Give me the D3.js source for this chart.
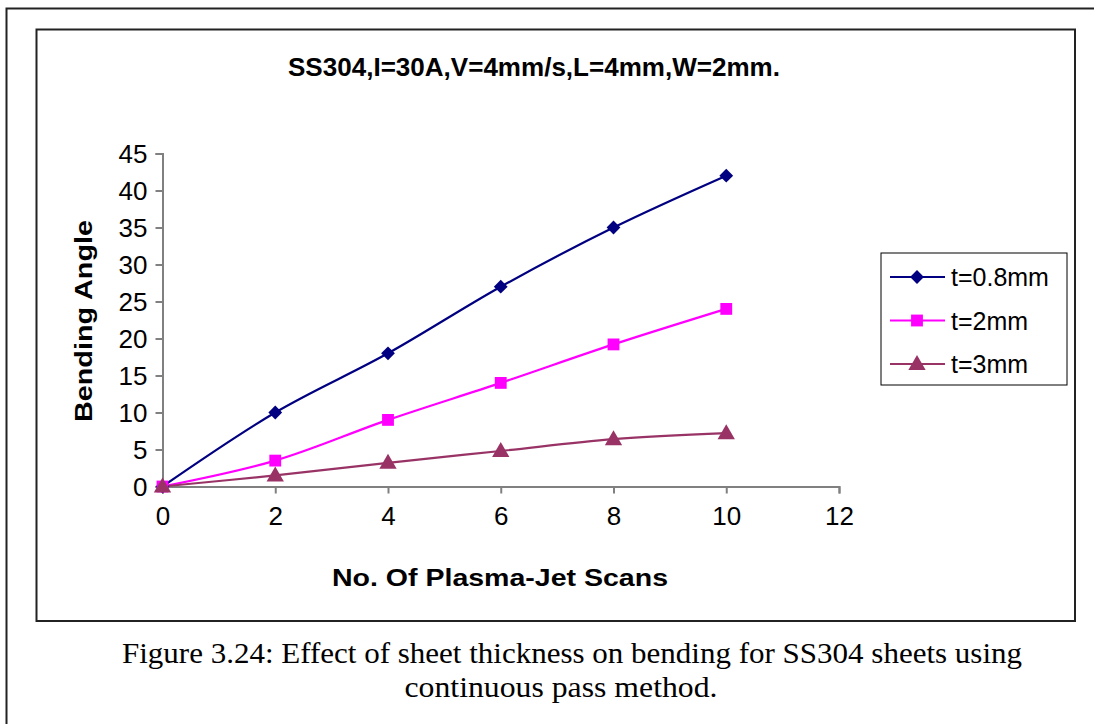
<!DOCTYPE html>
<html><head><meta charset="utf-8">
<script src="https://cdn.jsdelivr.net/npm/d3@7"></script>
<style>html,body{margin:0;padding:0;background:#fff;}svg{display:block;}</style>
</head><body>
<svg id="chart" width="1094" height="724"></svg>
<script>
const scans = [0, 2, 4, 6, 8, 10];
const t08 = [0, 10, 18, 27, 35, 42];
const t2 = [0, 3.5, 9, 14, 19.2, 24];
const t3 = [0, 1.5, 3.2, 4.8, 6.4, 7.2];
const seriesNames = ["t=0.8mm", "t=2mm", "t=3mm"];
const seriesColors = ["#000080", "#FF00FF", "#993366"];
const xTicks = [0, 2, 4, 6, 8, 10, 12];
const yTicks = [0, 5, 10, 15, 20, 25, 30, 35, 40, 45];
const title = "SS304,I=30A,V=4mm/s,L=4mm,W=2mm.";
const xTitle = "No. Of Plasma-Jet Scans";
const yTitle = "Bending Angle";
const caption = ["Figure 3.24: Effect of sheet thickness on bending for SS304 sheets using", "continuous pass method."];
const captionWidths = [900, 313];
const captionCenters = [572, 561];

const svg = d3.select("#chart");
const sans = "Arial, 'Liberation Sans', sans-serif";
// outer frame
svg.append("path").attr("d", "M6.5,724 L6.5,8.5 L1094,8.5").attr("fill", "none").attr("stroke", "#222").attr("stroke-width", 2);
// inner chart box
svg.append("rect").attr("x", 36.5).attr("y", 29.5).attr("width", 1038.5).attr("height", 591.5)
  .attr("fill", "#fff").attr("stroke", "#222").attr("stroke-width", 2);

const x = d3.scaleLinear().domain([0, 12]).range([162.5, 839]);
const y = d3.scaleLinear().domain([0, 45]).range([486.5, 153.5]);

const axisColor = "#808080";
const xa = svg.append("g").attr("transform", `translate(0,${y(0)})`)
  .call(d3.axisBottom(x).tickValues(xTicks).tickSize(7).tickPadding(13).tickFormat(d3.format("d")));
const ya = svg.append("g").attr("transform", `translate(${x(0)},0)`)
  .call(d3.axisLeft(y).tickValues(yTicks).tickSize(7).tickPadding(8).tickFormat(d3.format("d")));
[xa, ya].forEach(a => {
  a.selectAll("path,line").attr("stroke", axisColor).attr("stroke-width", 2);
  a.selectAll("text").attr("fill", "#000").attr("font-family", sans).attr("font-size", 26);
});
xa.selectAll("text").attr("dy", "0.71em");
ya.selectAll("text").attr("dy", "0.36em");

const data = [t08, t2, t3];
const symbols = [
  {type: d3.symbolSquare, size: 95, rot: 45},
  {type: d3.symbolSquare, size: 140, rot: 0},
  {type: d3.symbolTriangle, size: 130, rot: 0}
];
const line = d3.line().x(d => x(d[0])).y(d => y(d[1])).curve(d3.curveCatmullRom.alpha(0.5));
data.forEach((vals, i) => {
  const pts = scans.map((s, j) => [s, vals[j]]);
  svg.append("path").attr("d", line(pts)).attr("fill", "none").attr("stroke", seriesColors[i]).attr("stroke-width", 2.2);
});
data.forEach((vals, i) => {
  const sym = d3.symbol().type(symbols[i].type).size(symbols[i].size);
  svg.append("g").selectAll("path").data(scans.map((s, j) => [s, vals[j]])).join("path")
    .attr("transform", d => `translate(${x(d[0])},${y(d[1]) + (i === 2 ? 1 : 0)}) rotate(${symbols[i].rot})`)
    .attr("d", sym).attr("fill", seriesColors[i]);
});

// titles
svg.append("text").attr("x", 534).attr("y", 76).attr("text-anchor", "middle")
  .attr("font-family", sans).attr("font-weight", "bold").attr("font-size", 26)
  .attr("textLength", 492).attr("lengthAdjust", "spacingAndGlyphs").text(title);
svg.append("text").attr("x", 500).attr("y", 586).attr("text-anchor", "middle")
  .attr("font-family", sans).attr("font-weight", "bold").attr("font-size", 24)
  .attr("textLength", 336).attr("lengthAdjust", "spacingAndGlyphs").text(xTitle);
svg.append("text").attr("transform", "translate(92,321) rotate(-90)").attr("text-anchor", "middle")
  .attr("font-family", sans).attr("font-weight", "bold").attr("font-size", 24)
  .attr("textLength", 202).attr("lengthAdjust", "spacingAndGlyphs").text(yTitle);

// legend
const lg = svg.append("g");
lg.append("rect").attr("x", 881).attr("y", 253).attr("width", 186).attr("height", 132)
  .attr("fill", "#fff").attr("stroke", "#000").attr("stroke-width", 1);
seriesNames.forEach((n, i) => {
  const cy = 277 + i * 43.5;
  lg.append("line").attr("x1", 890).attr("x2", 945).attr("y1", cy).attr("y2", cy)
    .attr("stroke", seriesColors[i]).attr("stroke-width", 2);
  lg.append("path").attr("transform", `translate(917,${cy + (i === 2 ? 1 : 0)}) rotate(${symbols[i].rot})`)
    .attr("d", d3.symbol().type(symbols[i].type).size(symbols[i].size)).attr("fill", seriesColors[i]);
  lg.append("text").attr("x", 951).attr("y", cy).attr("dy", "0.36em")
    .attr("font-family", sans).attr("font-size", 25).text(n);
});

// caption
caption.forEach((c, i) => {
  svg.append("text").attr("x", captionCenters[i]).attr("y", 663 + i * 34).attr("text-anchor", "middle")
    .attr("font-family", "'Liberation Serif', 'Times New Roman', serif").attr("font-size", 30)
    .attr("textLength", captionWidths[i]).attr("lengthAdjust", "spacingAndGlyphs")
    .text(c);
});
</script>
</body></html>
